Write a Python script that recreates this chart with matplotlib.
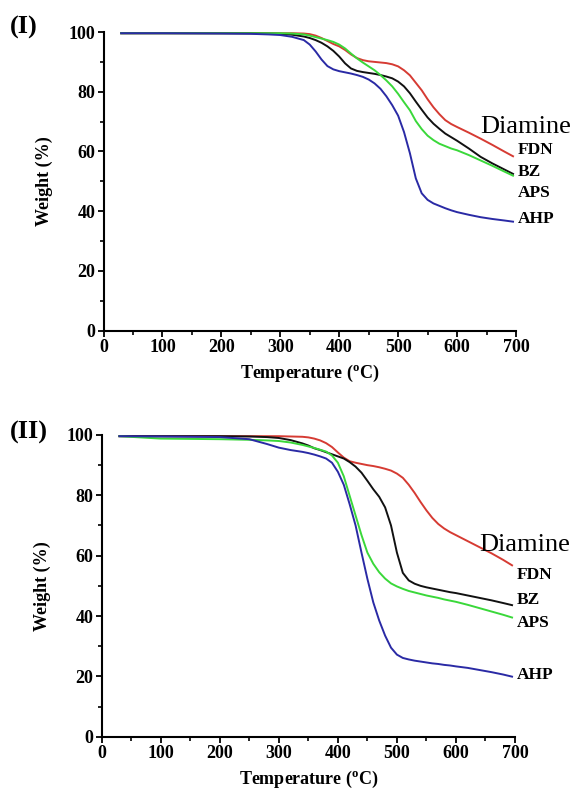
import numpy as np
import matplotlib
matplotlib.use("Agg")
import matplotlib.pyplot as plt
from matplotlib.ticker import MultipleLocator

plt.rcParams['font.family'] = ['Liberation Serif', 'DejaVu Serif']
plt.rcParams['mathtext.default'] = 'regular'

# temperature grid (deg C) shared by every curve
temp = [30, 100, 200, 250, 280, 300, 320, 340, 350, 360, 370, 380, 390, 400,
        410, 420, 430, 440, 450, 460, 470, 480, 490, 500, 510, 520, 530, 540,
        550, 560, 570, 580, 590, 600, 620, 640, 660, 680, 695]

diamines = ['FDN', 'BZ', 'APS', 'AHP']

# panel (I) weight (%)
w1_fdn = [99.6, 99.6, 99.6, 99.6, 99.6, 99.6, 99.6, 99.5, 99.3, 98.8, 98.0, 97.0, 96.0, 95.2,
          94.0, 92.5, 91.3, 90.6, 90.2, 90.0, 89.8, 89.6, 89.2, 88.5, 87.2, 85.5, 83.0, 80.5,
          77.5, 74.8, 72.5, 70.5, 69.2, 68.2, 66.3, 64.3, 62.2, 60.0, 58.4]
w1_bz = [99.6, 99.6, 99.6, 99.6, 99.5, 99.4, 99.1, 98.5, 98.0, 97.3, 96.4, 95.2, 93.7, 91.8,
         89.5, 87.8, 87.0, 86.6, 86.3, 86.0, 85.6, 85.1, 84.5, 83.4, 81.8, 79.5, 76.7, 74.0,
         71.4, 69.3, 67.6, 66.0, 64.8, 63.6, 61.0, 58.2, 56.0, 54.0, 52.5]
w1_aps = [99.6, 99.6, 99.6, 99.6, 99.6, 99.6, 99.5, 99.2, 98.8, 98.3, 97.8, 97.3, 96.7, 95.8,
          94.5, 92.8, 91.2, 89.8, 88.5, 87.2, 85.6, 83.8, 81.8, 79.3, 76.5, 73.8, 70.2, 67.5,
          65.3, 63.8, 62.6, 61.8, 61.0, 60.4, 58.8, 57.0, 55.2, 53.3, 51.9]
w1_ahp = [99.6, 99.6, 99.5, 99.4, 99.2, 99.0, 98.4, 97.3, 95.8, 93.5, 90.8, 88.6, 87.5, 86.9,
          86.5, 86.1, 85.6, 85.0, 84.1, 82.8, 81.0, 78.5, 75.5, 72.0, 66.5, 59.4, 51.0, 46.0,
          43.8, 42.6, 41.8, 41.0, 40.3, 39.7, 38.8, 38.0, 37.4, 36.9, 36.5]

# panel (II) weight (%)
w2_fdn = [99.6, 99.6, 99.6, 99.6, 99.6, 99.6, 99.5, 99.4, 99.2, 98.8, 98.2, 97.3, 96.0, 94.2,
          92.5, 91.3, 90.8, 90.4, 90.0, 89.7, 89.3, 88.8, 88.2, 87.2, 85.8, 83.5, 80.8, 77.8,
          75.0, 72.5, 70.5, 69.0, 67.8, 66.8, 64.8, 62.8, 60.8, 58.6, 56.8]
w2_bz = [99.6, 99.6, 99.6, 99.5, 99.3, 99.0, 98.3, 97.2, 96.5, 95.6, 95.0, 94.3, 93.6, 92.9,
         92.2, 91.0, 89.5, 87.5, 84.8, 82.0, 79.5, 76.0, 70.0, 61.0, 54.3, 51.8, 50.7, 50.0,
         49.5, 49.1, 48.7, 48.3, 47.9, 47.6, 46.8, 46.0, 45.2, 44.3, 43.6]
w2_aps = [99.6, 98.8, 98.6, 98.4, 98.2, 98.0, 97.5, 96.7, 96.2, 95.7, 95.1, 94.5, 93.2, 90.8,
          86.3, 79.8, 73.3, 66.8, 61.0, 57.3, 54.5, 52.4, 50.8, 49.8, 49.0, 48.3, 47.8, 47.3,
          46.8, 46.4, 46.0, 45.5, 45.1, 44.7, 43.7, 42.6, 41.5, 40.4, 39.5]
w2_ahp = [99.6, 99.5, 99.3, 98.6, 97.0, 95.8, 95.0, 94.4, 94.0, 93.5, 92.9, 92.2, 90.8, 87.8,
          83.5, 77.0, 70.0, 61.0, 52.3, 44.5, 38.5, 33.5, 29.5, 27.2, 26.1, 25.6, 25.2, 24.9,
          24.6, 24.3, 24.1, 23.8, 23.6, 23.3, 22.8, 22.1, 21.4, 20.6, 19.9]

# label heights (weight %) for the curve names at the right
lab1_y = [60.4, 53.1, 46.0, 37.4]
lab2_y = [53.6, 45.3, 37.7, 20.4]
head1_y = 68.1
head2_y = 63.5

colors = ['#d63b33', '#111111', '#3ad83a', '#2a2aa5']


def draw_panel(ax, curves, lab_y, head_y):
    for w, c in zip(curves, colors):
        ax.plot(temp, w, color=c, linewidth=1.4)

    ax.set_xlim(0, 700)
    ax.set_ylim(0, 100)
    ax.spines['top'].set_visible(False)
    ax.spines['right'].set_visible(False)
    ax.spines['left'].set_linewidth(1.5)
    ax.spines['bottom'].set_linewidth(1.5)
    ax.xaxis.set_major_locator(MultipleLocator(100))
    ax.xaxis.set_minor_locator(MultipleLocator(50))
    ax.yaxis.set_major_locator(MultipleLocator(20))
    ax.yaxis.set_minor_locator(MultipleLocator(10))
    ax.tick_params(which='major', direction='out', length=4, width=1.3,
                   labelsize=13, pad=2)
    ax.tick_params(which='minor', direction='out', length=3, width=1.2)
    for lab in ax.get_xticklabels() + ax.get_yticklabels():
        lab.set_fontweight('bold')

    ax.set_xlabel(r'Temperature ($\mathregular{^o}$C)', fontsize=13,
                  fontweight='bold', labelpad=5)
    ax.set_ylabel('Weight (%)', fontsize=13, fontweight='bold')
    ax.yaxis.set_label_coords(-0.122, 0.5)

    ax.text(639, head_y, 'Diamine', fontsize=19, va='center', ha='left',
            clip_on=False)
    for name, y in zip(diamines, lab_y):
        ax.text(703, y, name, fontsize=12.5, fontweight='bold', va='center',
                ha='left', clip_on=False)


fig = plt.figure(figsize=(5.76, 7.89), dpi=100)
ax1 = fig.add_axes([0.1797, 0.5809, 0.7161, 0.3785])
ax2 = fig.add_axes([0.1766, 0.0663, 0.7175, 0.3824])

draw_panel(ax1, [w1_fdn, w1_bz, w1_aps, w1_ahp], lab1_y, head1_y)
draw_panel(ax2, [w2_fdn, w2_bz, w2_aps, w2_ahp], lab2_y, head2_y)

fig.text(0.017, 1 - 27 / 789, '(I)', fontsize=19, fontweight='bold', va='center')
fig.text(0.017, 1 - 432 / 789, '(II)', fontsize=19, fontweight='bold', va='center')

fig.savefig('out.png', dpi=100)
